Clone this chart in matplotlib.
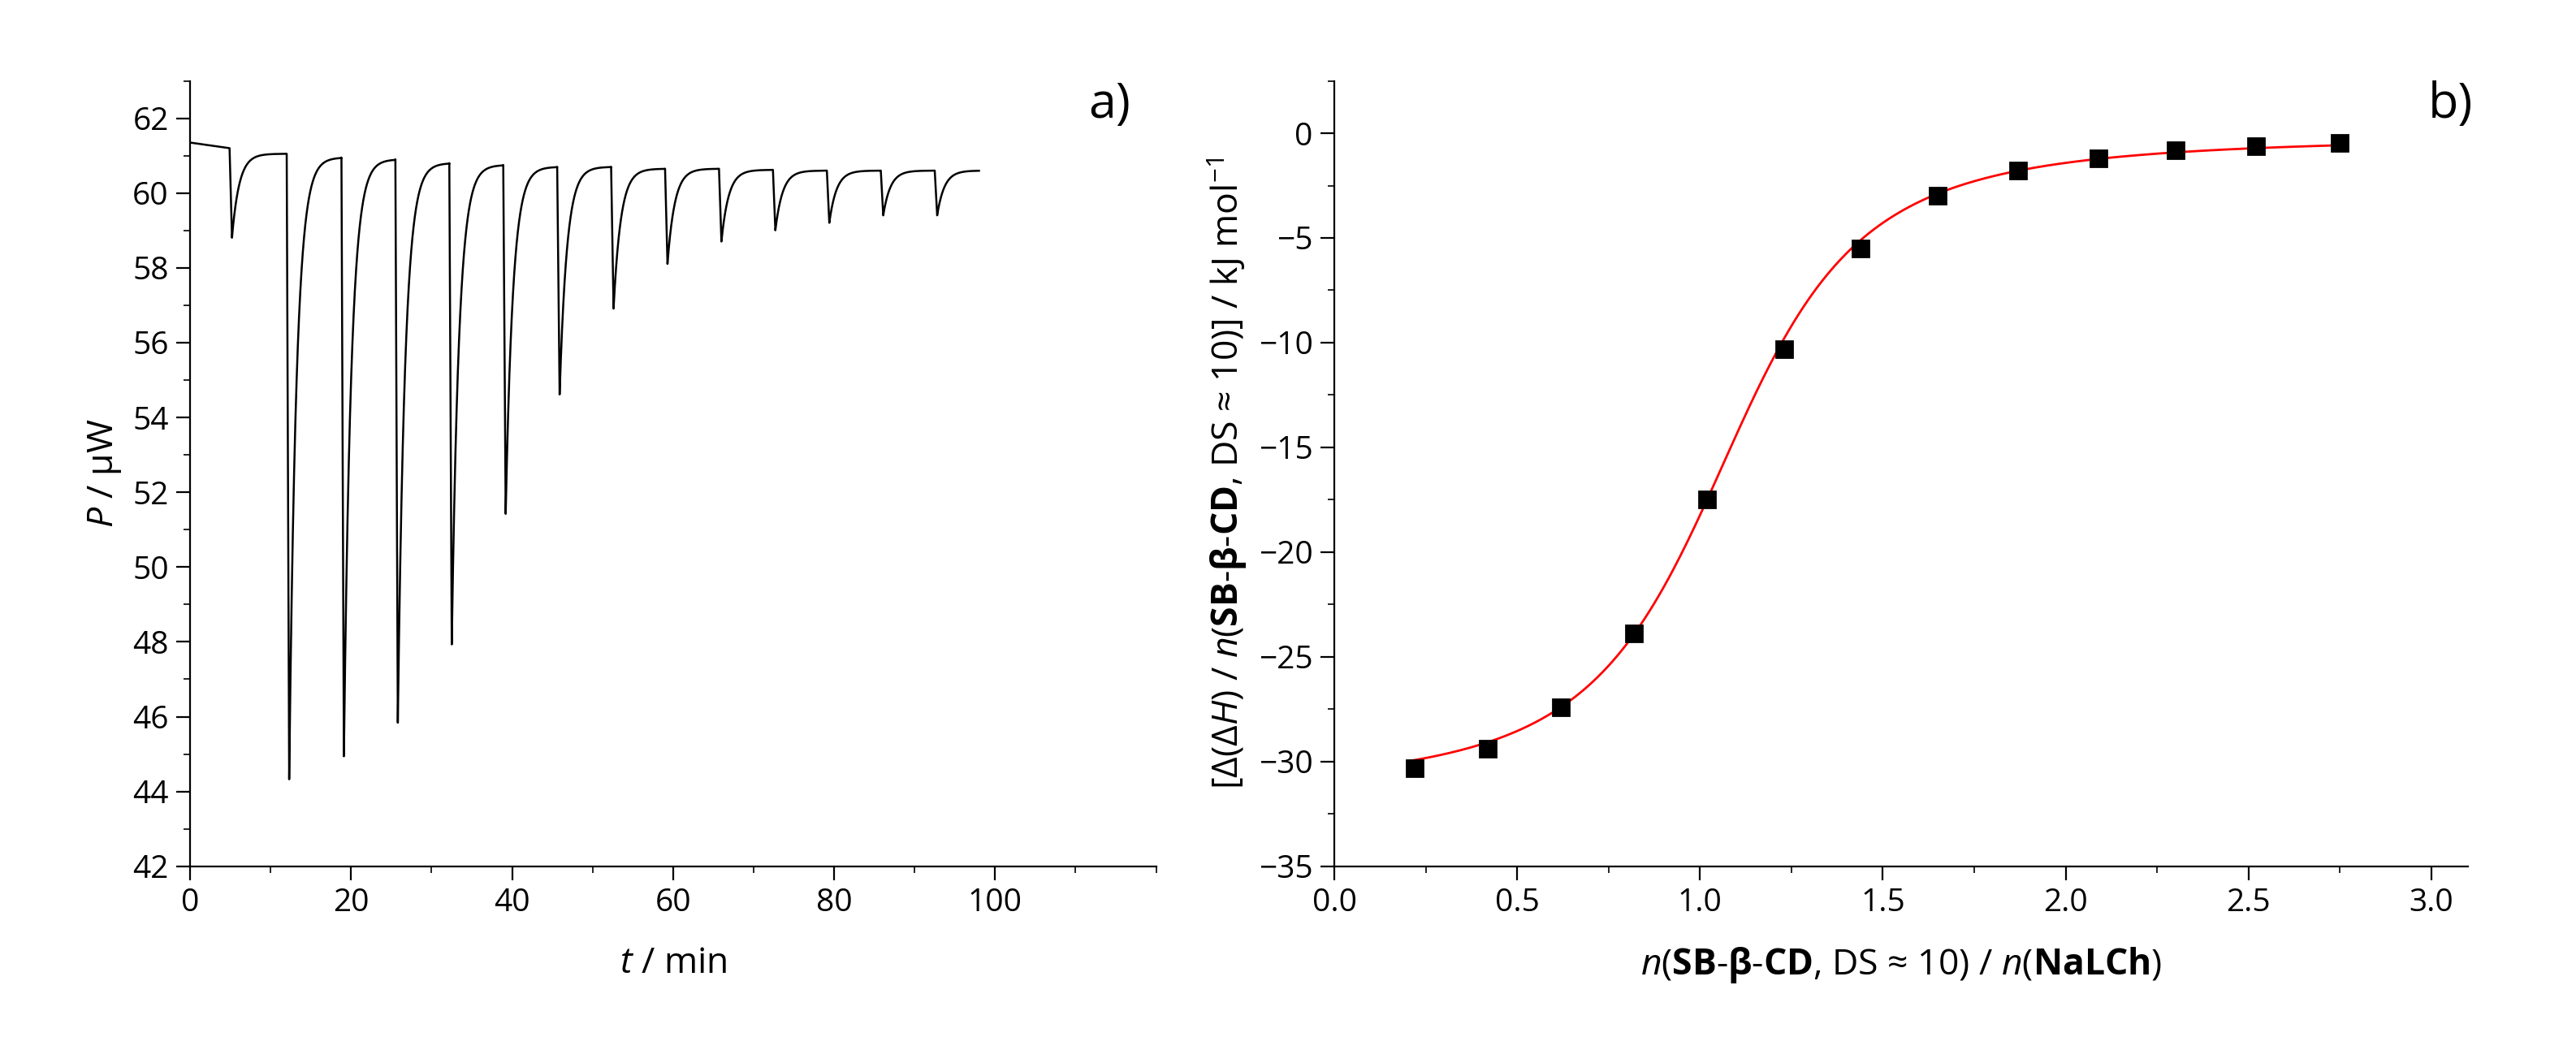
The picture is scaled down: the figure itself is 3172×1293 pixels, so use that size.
import numpy as np
import matplotlib.pyplot as plt
from matplotlib.ticker import MultipleLocator

plt.rcParams['font.family'] = ['Open Sans', 'DejaVu Sans']
plt.rcParams['mathtext.fontset'] = 'custom'
plt.rcParams['mathtext.it'] = 'Open Sans:italic'
plt.rcParams['mathtext.rm'] = 'Open Sans'
plt.rcParams['mathtext.bf'] = 'Open Sans:bold'

# panel a: injection peaks (time of minimum / min, minimum / uW, baseline / uW)
inj_t = [5.2, 12.3, 19.1, 25.8, 32.5, 39.2, 45.9, 52.6, 59.3, 66.0, 72.7, 79.4, 86.1, 92.8]
inj_min = [58.8, 44.2, 44.9, 45.8, 47.9, 51.4, 54.6, 56.9, 58.1, 58.7, 59.0, 59.2, 59.4, 59.4]
inj_base = [61.2, 61.05, 60.95, 60.9, 60.8, 60.75, 60.7, 60.7, 60.65, 60.65, 60.62, 60.6, 60.6, 60.6]
t_start, p_start, t_end = 0.0, 61.35, 98.0

# panel b: integrated heats
ratio = [0.22, 0.42, 0.62, 0.82, 1.02, 1.23, 1.44, 1.65, 1.87, 2.09, 2.30, 2.52, 2.75]
heat = [-30.3, -29.4, -27.4, -23.9, -17.5, -10.3, -5.5, -3.0, -1.8, -1.2, -0.8, -0.6, -0.45]
# one-site binding fit parameters
fit_dH, fit_n, fit_c, fit_off = -31.3, 1.1, 30.0, -0.15

drop_t = 0.3
t_all, p_all = [t_start], [p_start]
for i, (ti, pm, pb) in enumerate(zip(inj_t, inj_min, inj_base)):
    t0 = ti - drop_t
    t_next = inj_t[i + 1] - drop_t if i + 1 < len(inj_t) else t_end
    tt = np.linspace(t0, t_next, 400)
    nxt = inj_base[i + 1] if i + 1 < len(inj_base) else pb
    shape = np.where(tt - t0 < drop_t, (tt - t0) / drop_t,
                     np.exp(-(tt - ti) / 0.9))
    t_all.extend(tt)
    p_all.extend(nxt + (pb - nxt) * (1 - shape) * 0 + (pm - nxt) * shape
                 + (pb - nxt) * (tt < ti) * (1 - shape))

fig = plt.figure(figsize=(15.86, 6.465), dpi=200)
ax1 = fig.add_axes([0.0738, 0.175, 0.375, 0.748])
ax2 = fig.add_axes([0.518, 0.175, 0.44, 0.748])

ax1.plot(t_all, p_all, color='black', lw=0.9)
ax1.set_xlim(0, 120)
ax1.set_ylim(42, 63)
ax1.set_xticks(range(0, 101, 20))
ax1.set_yticks(range(42, 63, 2))
ax1.xaxis.set_minor_locator(MultipleLocator(10))
ax1.yaxis.set_minor_locator(MultipleLocator(1))
ax1.set_xlabel(r'$t$ / min', fontsize=16, labelpad=12)
ax1.set_ylabel(r'$P$ / µW', fontsize=16)
ax1.text(0.93, 0.97, 'a)', transform=ax1.transAxes, fontsize=22, ha='left', va='center')

xf = np.linspace(0.2, 2.77, 400)
xr = xf / fit_n
r = 1 / fit_c
yf = fit_dH * (0.5 + (1 - xr - r) / (2 * np.sqrt((1 + xr + r) ** 2 - 4 * xr))) + fit_off
ax2.plot(xf, yf, color='red', lw=1.0)
ax2.plot(ratio, heat, 's', color='black', ms=7)
ax2.set_xlim(0, 3.1)
ax2.set_ylim(-35, 2.5)
ax2.xaxis.set_major_locator(MultipleLocator(0.5))
ax2.xaxis.set_minor_locator(MultipleLocator(0.25))
ax2.yaxis.set_major_locator(MultipleLocator(5))
ax2.yaxis.set_minor_locator(MultipleLocator(2.5))
ax2.xaxis.set_major_formatter(plt.FormatStrFormatter('%.1f'))
ax2.set_xlabel(r'$n$($\mathbf{SB}$-$\mathbf{β}$-$\mathbf{CD}$, DS ≈ 10) / $n$($\mathbf{NaLCh}$)',
               fontsize=16, labelpad=12)
ax2.set_ylabel(r'[Δ(Δ$H$) / $n$($\mathbf{SB}$-$\mathbf{β}$-$\mathbf{CD}$, DS ≈ 10)] / kJ mol$^{-1}$',
               fontsize=16)
ax2.text(0.965, 0.97, 'b)', transform=ax2.transAxes, fontsize=22, ha='left', va='center')

for ax in (ax1, ax2):
    ax.spines['top'].set_visible(False)
    ax.spines['right'].set_visible(False)
    ax.tick_params(which='major', direction='out', length=6, labelsize=14)
    ax.tick_params(which='minor', direction='out', length=3)

fig.savefig('out.png', dpi=200)
